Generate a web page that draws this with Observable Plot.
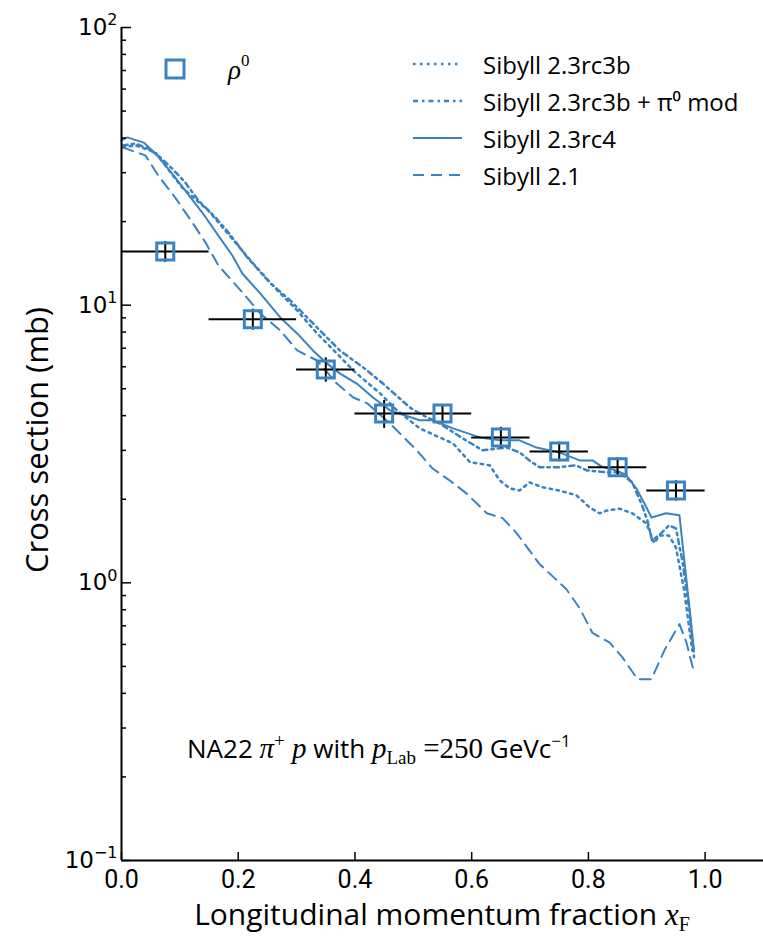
<!DOCTYPE html>
<html>
<head>
<meta charset="utf-8">
<script src="https://cdn.jsdelivr.net/npm/d3@7"></script>
<script src="https://cdn.jsdelivr.net/npm/@observablehq/plot@0.6"></script>
<style>
  body { margin: 0; background: #fff; }
  #chart svg { display: block; }
</style>
</head>
<body>
<div id="chart"></div>
<script>
const blue = "#3a83c1";

// NA22 rho0 data points
const ptX    = [0.075, 0.225, 0.35, 0.45, 0.55, 0.65, 0.75, 0.85, 0.95];
const ptXlo  = [0.00, 0.15, 0.30, 0.40, 0.50, 0.60, 0.70, 0.80, 0.90];
const ptXhi  = [0.15, 0.30, 0.40, 0.50, 0.60, 0.70, 0.80, 0.90, 1.00];
const ptY    = [15.6, 8.9, 5.87, 4.07, 4.07, 3.34, 2.97, 2.61, 2.15];
const ptYerr = [1.35, 0.77, 0.59, 0.47, 0.31, 0.29, 0.24, 0.21, 0.18];

// Sibyll 2.3rc4 (solid)
const rc4X = [0.000,0.010,0.038,0.058,0.080,0.109,0.138,0.166,0.190,0.207,0.238,0.272,0.301,0.328,0.352,0.374,0.403,0.431,0.460,0.511,0.533,0.568,0.614,0.648,0.682,0.711,0.750,0.785,0.807,0.824,0.848,0.865,0.882,0.896,0.908,0.933,0.956,0.981];
const rc4Y = [39.2,40.2,38.5,35.2,31.0,25.9,21.6,17.8,15.1,13.0,11.0,9.03,7.91,6.87,6.17,5.68,5.22,4.65,4.18,3.85,3.85,3.60,3.34,3.26,3.26,3.07,2.95,2.76,2.76,2.61,2.54,2.44,2.19,1.93,1.72,1.78,1.75,0.57];

// Sibyll 2.1 (dashed)
const s21X = [0.002,0.041,0.063,0.092,0.121,0.144,0.166,0.209,0.238,0.272,0.301,0.335,0.369,0.397,0.421,0.460,0.506,0.533,0.562,0.591,0.626,0.653,0.677,0.716,0.762,0.785,0.807,0.836,0.858,0.884,0.908,0.930,0.956,0.968,0.981];
const s21Y = [37.0,34.6,29.3,24.4,19.9,16.8,13.9,11.0,9.33,8.11,6.87,6.32,5.22,4.65,4.43,3.75,3.00,2.58,2.34,2.10,1.78,1.71,1.51,1.17,0.95,0.81,0.66,0.61,0.54,0.45,0.45,0.57,0.71,0.61,0.475];

// Sibyll 2.3rc3b (dotted)
const rc3bX = [0.002,0.024,0.058,0.104,0.149,0.226,0.267,0.301,0.335,0.369,0.397,0.443,0.472,0.511,0.545,0.568,0.597,0.631,0.648,0.665,0.682,0.699,0.721,0.750,0.779,0.802,0.819,0.831,0.853,0.875,0.899,0.913,0.921,0.938,0.950,0.964,0.978];
const rc3bY = [37.0,37.6,35.5,26.5,21.9,14.1,11.3,9.57,7.91,6.70,5.82,4.81,4.18,3.60,3.34,3.18,2.72,2.65,2.34,2.19,2.15,2.30,2.21,2.15,2.07,1.87,1.78,1.82,1.85,1.78,1.64,1.39,1.48,1.48,1.34,0.94,0.57];

// Sibyll 2.3rc3b + pi0 mod (dash-dot)
const rc3bmX = [0.002,0.024,0.046,0.063,0.087,0.109,0.132,0.161,0.183,0.215,0.255,0.289,0.318,0.345,0.374,0.414,0.448,0.494,0.511,0.545,0.585,0.619,0.660,0.682,0.699,0.716,0.750,0.779,0.797,0.831,0.853,0.875,0.892,0.901,0.909,0.925,0.938,0.950,0.961,0.973,0.981];
const rc3bmY = [37.6,38.2,36.6,34.6,31.0,27.7,23.8,20.7,18.3,14.9,12.0,10.4,9.03,7.91,6.87,5.97,5.22,4.28,4.07,3.75,3.31,3.00,3.07,2.95,2.76,2.61,2.61,2.65,2.54,2.50,2.50,2.30,1.90,1.68,1.42,1.51,1.61,1.57,1.20,0.80,0.54];

const xTicks = [0, 0.2, 0.4, 0.6, 0.8, 1.0];
const yTicks = [0.1, 1, 10, 100];
const yTickExponents = ["−1", "0", "1", "2"];
const legendNames = ["Sibyll 2.3rc3b", "Sibyll 2.3rc3b + π⁰ mod", "Sibyll 2.3rc4", "Sibyll 2.1"];

const dashDotted = "2.5,4.5";
const dashDashDot = "5,4,2.5,4";
const dashDashed = "11,7";
const legendDashes = [dashDotted, dashDashDot, null, dashDashed];

const toRows = (xs, ys) => xs.map((x, i) => ({x, y: ys[i]}));
const points = ptX.map((x, i) => ({x, xlo: ptXlo[i], xhi: ptXhi[i], y: ptY[i], ylo: ptY[i] - ptYerr[i], yhi: ptY[i] + ptYerr[i]}));
const minorTicks = [];
for (const d of [0.1, 1, 10]) for (let k = 2; k <= 9; k++) minorTicks.push(+(d * k).toPrecision(3));

const sans = "'Open Sans', 'DejaVu Sans', sans-serif";
const serif = "'Liberation Serif', 'DejaVu Serif', serif";

const plot = Plot.plot({
  width: 763,
  height: 938,
  marginLeft: 121,
  marginRight: 0,
  marginTop: 27,
  marginBottom: 78,
  style: {fontFamily: sans, background: "#fff"},
  x: {domain: [0, 1.1]},
  y: {type: "log", domain: [0.1, 100]},
  marks: [
    Plot.line(toRows(rc3bX, rc3bY), {x: "x", y: "y", stroke: blue, strokeWidth: 2.5, strokeDasharray: dashDotted}),
    Plot.line(toRows(rc3bmX, rc3bmY), {x: "x", y: "y", stroke: blue, strokeWidth: 2.5, strokeDasharray: dashDashDot}),
    Plot.line(toRows(rc4X, rc4Y), {x: "x", y: "y", stroke: blue, strokeWidth: 2}),
    Plot.line(toRows(s21X, s21Y), {x: "x", y: "y", stroke: blue, strokeWidth: 2, strokeDasharray: dashDashed}),
    Plot.ruleY(points, {y: "y", x1: "xlo", x2: "xhi", stroke: "black", strokeWidth: 2}),
    Plot.ruleX(points, {x: "x", y1: "ylo", y2: "yhi", stroke: "black", strokeWidth: 2}),
    Plot.dot(points, {x: "x", y: "y", symbol: "square", r: 9.6, stroke: blue, strokeWidth: 3, fill: "none"}),
    Plot.axisY(minorTicks, {tickSize: -5, tickFormat: () => "", label: null, strokeWidth: 1.5}),
    Plot.axisY(yTicks, {tickSize: -10, tickPadding: 14, label: null, strokeWidth: 1.5,
      tickFormat: (d) => yTickExponents[yTicks.indexOf(d)], fontSize: 23, fontFamily: "'DejaVu Sans', sans-serif"}),
    Plot.axisX(xTicks, {tickSize: -8, tickPadding: 18, label: null, strokeWidth: 1.5,
      tickFormat: d3.format(".1f"), fontSize: 25, fontFamily: "'Liberation Sans Narrow', Roboto, sans-serif"}),
    Plot.ruleX([0], {stroke: "black", strokeWidth: 2}),
    Plot.ruleY([0.1], {stroke: "black", strokeWidth: 2})
  ]
});

document.getElementById("chart").appendChild(plot);

const svg = d3.select(plot);

// y tick labels as 10^n with a real superscript; drop the empty minor-tick labels
svg.selectAll('g[aria-label="y-axis tick label"] text').each(function () {
  const t = d3.select(this);
  const exp = t.text();
  if (exp === "") { t.remove(); return; }
  t.text(null);
  t.append("tspan").text("10");
  t.append("tspan").attr("font-size", 16).attr("dy", "-0.6em").text(exp);
});

const g = svg.append("g").attr("text-anchor", "start");

// y title
g.append("text")
  .attr("transform", "translate(36,440) rotate(-90)")
  .attr("text-anchor", "middle").attr("dominant-baseline", "central")
  .attr("font-family", sans).attr("font-size", 31)
  .text("Cross section (mb)");

// x title
const xt = g.append("text").attr("x", 442).attr("y", 925).attr("text-anchor", "middle")
  .attr("font-family", sans).attr("font-size", 30);
xt.append("tspan").text("Longitudinal momentum fraction ");
xt.append("tspan").attr("font-family", serif).attr("font-style", "italic").attr("font-size", 31).text("x");
xt.append("tspan").attr("font-family", serif).attr("font-size", 20).attr("dy", 6).text("F");

// rho0 legend entry
g.append("rect").attr("x", 166).attr("y", 60).attr("width", 18).attr("height", 18)
  .attr("fill", "none").attr("stroke", blue).attr("stroke-width", 3);
const rho = g.append("text").attr("x", 228).attr("y", 79).attr("font-family", serif).attr("font-size", 27);
rho.append("tspan").attr("font-style", "italic").text("ρ");
rho.append("tspan").attr("font-size", 17).attr("dy", -13).text("0");

// line legend
const rows = [64, 101, 138, 175];
legendNames.forEach((name, i) => {
  const line = g.append("line").attr("x1", 413).attr("x2", 462).attr("y1", rows[i]).attr("y2", rows[i])
    .attr("stroke", blue).attr("stroke-width", i < 2 ? 2.5 : 2.2);
  if (legendDashes[i]) line.attr("stroke-dasharray", legendDashes[i]);
  g.append("text").attr("x", 483).attr("y", rows[i]).attr("dominant-baseline", "central")
    .attr("font-family", sans).attr("font-size", 24).text(name);
});

// annotation
const an = g.append("text").attr("x", 187).attr("y", 758).attr("font-family", sans).attr("font-size", 26);
an.append("tspan").text("NA22 ");
an.append("tspan").attr("font-family", serif).attr("font-style", "italic").attr("font-size", 29).text("π");
an.append("tspan").attr("font-family", serif).attr("font-size", 19).attr("dy", -11).text("+");
an.append("tspan").attr("font-family", serif).attr("font-style", "italic").attr("font-size", 29).attr("dy", 11).text(" p");
an.append("tspan").text(" with ");
an.append("tspan").attr("font-family", serif).attr("font-style", "italic").attr("font-size", 29).text("p");
an.append("tspan").attr("font-family", serif).attr("font-size", 19).attr("dy", 6).text("Lab");
an.append("tspan").attr("font-family", serif).attr("font-size", 29).attr("dy", -6).text(" =250");
an.append("tspan").text(" GeVc");
an.append("tspan").attr("font-size", 17).attr("dy", -11).text("−1");
</script>
</body>
</html>
